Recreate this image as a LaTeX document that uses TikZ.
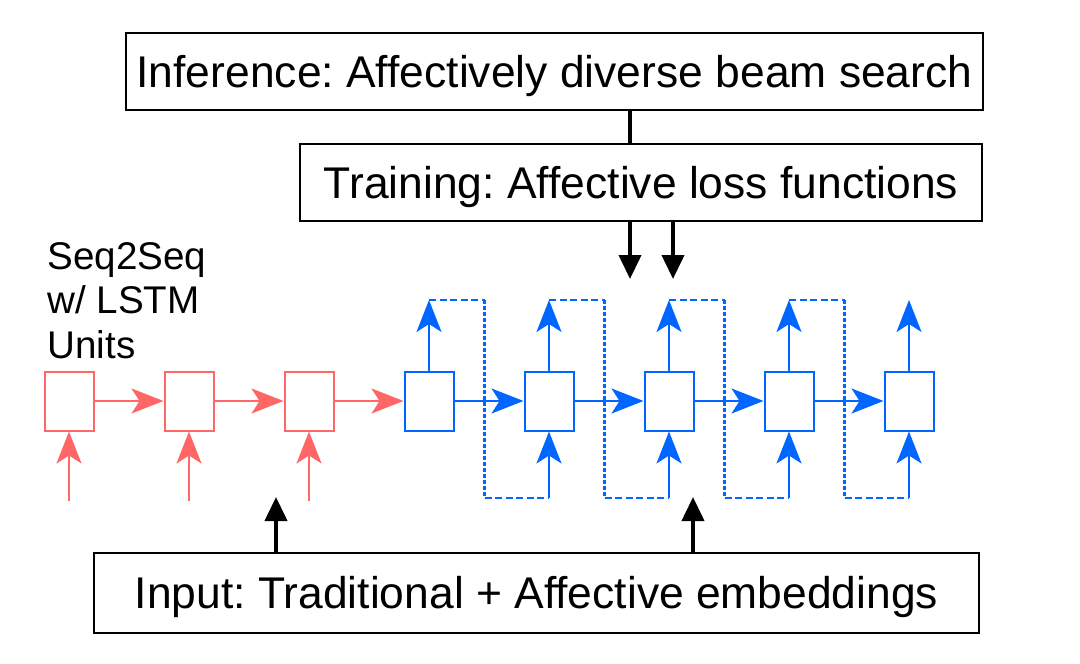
\documentclass[tikz,border=0pt]{standalone}
\usepackage{fontspec}
\setmainfont{Liberation Sans}
\usetikzlibrary{arrows.meta}
\definecolor{lred}{RGB}{255,102,102}
\definecolor{lblue}{RGB}{0,102,255}
\frenchspacing
\begin{document}
\begin{tikzpicture}[x=0.5pt,y=-0.5pt,
  txtbox/.style={draw=black,line width=1.2pt,inner sep=0pt,font=\fontsize{22.2}{26}\selectfont,text height=15.9pt,text depth=0pt},
  cell/.style={draw,line width=1pt,fill=white,minimum width=24.5pt,minimum height=29.5pt,inner sep=0pt},
  redcell/.style={cell,draw=lred},
  bluecell/.style={cell,draw=lblue},
  redarr/.style={draw=lred,line width=1pt,-{Stealth[length=16pt,width=12.5pt,inset=4pt]}},
  bluearr/.style={draw=lblue,line width=1pt,-{Stealth[length=16pt,width=12.5pt,inset=4pt]}},
  bluedash/.style={draw=lblue,line width=1pt,dash pattern=on 3.5pt off 1.75pt},
  bluedot/.style={draw=lblue,line width=1.1pt,dash pattern=on 1.75pt off 1.25pt},
  blkline/.style={draw=black,line width=2pt},
  blkarr/.style={draw=black,line width=2pt,-{Triangle[length=12pt,width=11pt]}},
  lbl/.style={font=\fontsize{19.3}{22.2}\selectfont,align=left,inner sep=0pt}
]
\useasboundingbox (0,0) rectangle (1080,663);

% text boxes
\node[txtbox,minimum width=428.5pt,minimum height=38.5pt] (infer) at (554.5,71.5) {Inference: Affectively diverse beam search};
\node[txtbox,minimum width=341pt,minimum height=38.5pt] (train) at (641,182.5) {Training: Affective loss functions};
\node[txtbox,minimum width=442.5pt,minimum height=40pt] (input) at (536.5,593) {Input: Traditional + Affective embeddings};

\node[lbl,anchor=base west] (s2s) at (47,358) {Seq2Seq\\w/ LSTM\\Units};

% cells
\node[redcell] (c0) at (69,401) {};
\node[redcell] (c1) at (189,401) {};
\node[redcell] (c2) at (309,401) {};
\node[bluecell] (c3) at (429,401) {};
\node[bluecell] (c4) at (549,401) {};
\node[bluecell] (c5) at (669,401) {};
\node[bluecell] (c6) at (789,401) {};
\node[bluecell] (c7) at (909,401) {};

% black connectors
\coordinate (k1) at (630,110);
\draw[blkline] (infer.south -| k1) -- (train.north -| k1);
\coordinate (ta) at (630,279);
\coordinate (tb) at (673,279);
\draw[blkarr] (train.south -| ta) -- (ta);
\draw[blkarr] (train.south -| tb) -- (tb);
\coordinate (ia) at (276,497);
\coordinate (ib) at (693,497);
\draw[blkarr] (input.north -| ia) -- (ia);
\draw[blkarr] (input.north -| ib) -- (ib);

% red inputs
\coordinate (in0) at (69,501);
\coordinate (in1) at (189,501);
\coordinate (in2) at (309,501);
\draw[redarr] (in0) -- (c0.south);
\draw[redarr] (in1) -- (c1.south);
\draw[redarr] (in2) -- (c2.south);

% horizontal chain
\draw[redarr] (c0.east) -- (c1.west);
\draw[redarr] (c1.east) -- (c2.west);
\draw[redarr] (c2.east) -- (c3.west);
\draw[bluearr] (c3.east) -- (c4.west);
\draw[bluearr] (c4.east) -- (c5.west);
\draw[bluearr] (c5.east) -- (c6.west);
\draw[bluearr] (c6.east) -- (c7.west);

% outputs
\coordinate (o3) at (429,300);
\coordinate (o4) at (549,300);
\coordinate (o5) at (669,300);
\coordinate (o6) at (789,300);
\coordinate (o7) at (909,300);
\draw[bluearr] (c3.north) -- (o3);
\draw[bluearr] (c4.north) -- (o4);
\draw[bluearr] (c5.north) -- (o5);
\draw[bluearr] (c6.north) -- (o6);
\draw[bluearr] (c7.north) -- (o7);

% feedback loops
\foreach \a/\b/\x in {3/4/484.5,4/5/604.5,5/6/724.5,6/7/844.5}{
  \coordinate (ta\a) at (\x,300);
  \coordinate (tb\a) at (\x,498);
  \coordinate (u\b) at (o\b |- tb\a);
  \draw[bluedash] (o\a) -- (ta\a);
  \draw[bluedot] (ta\a) -- (tb\a);
  \draw[bluedash] (tb\a) -- (u\b);
  \draw[bluearr] (u\b) -- (c\b.south);
}
\end{tikzpicture}
\end{document}
